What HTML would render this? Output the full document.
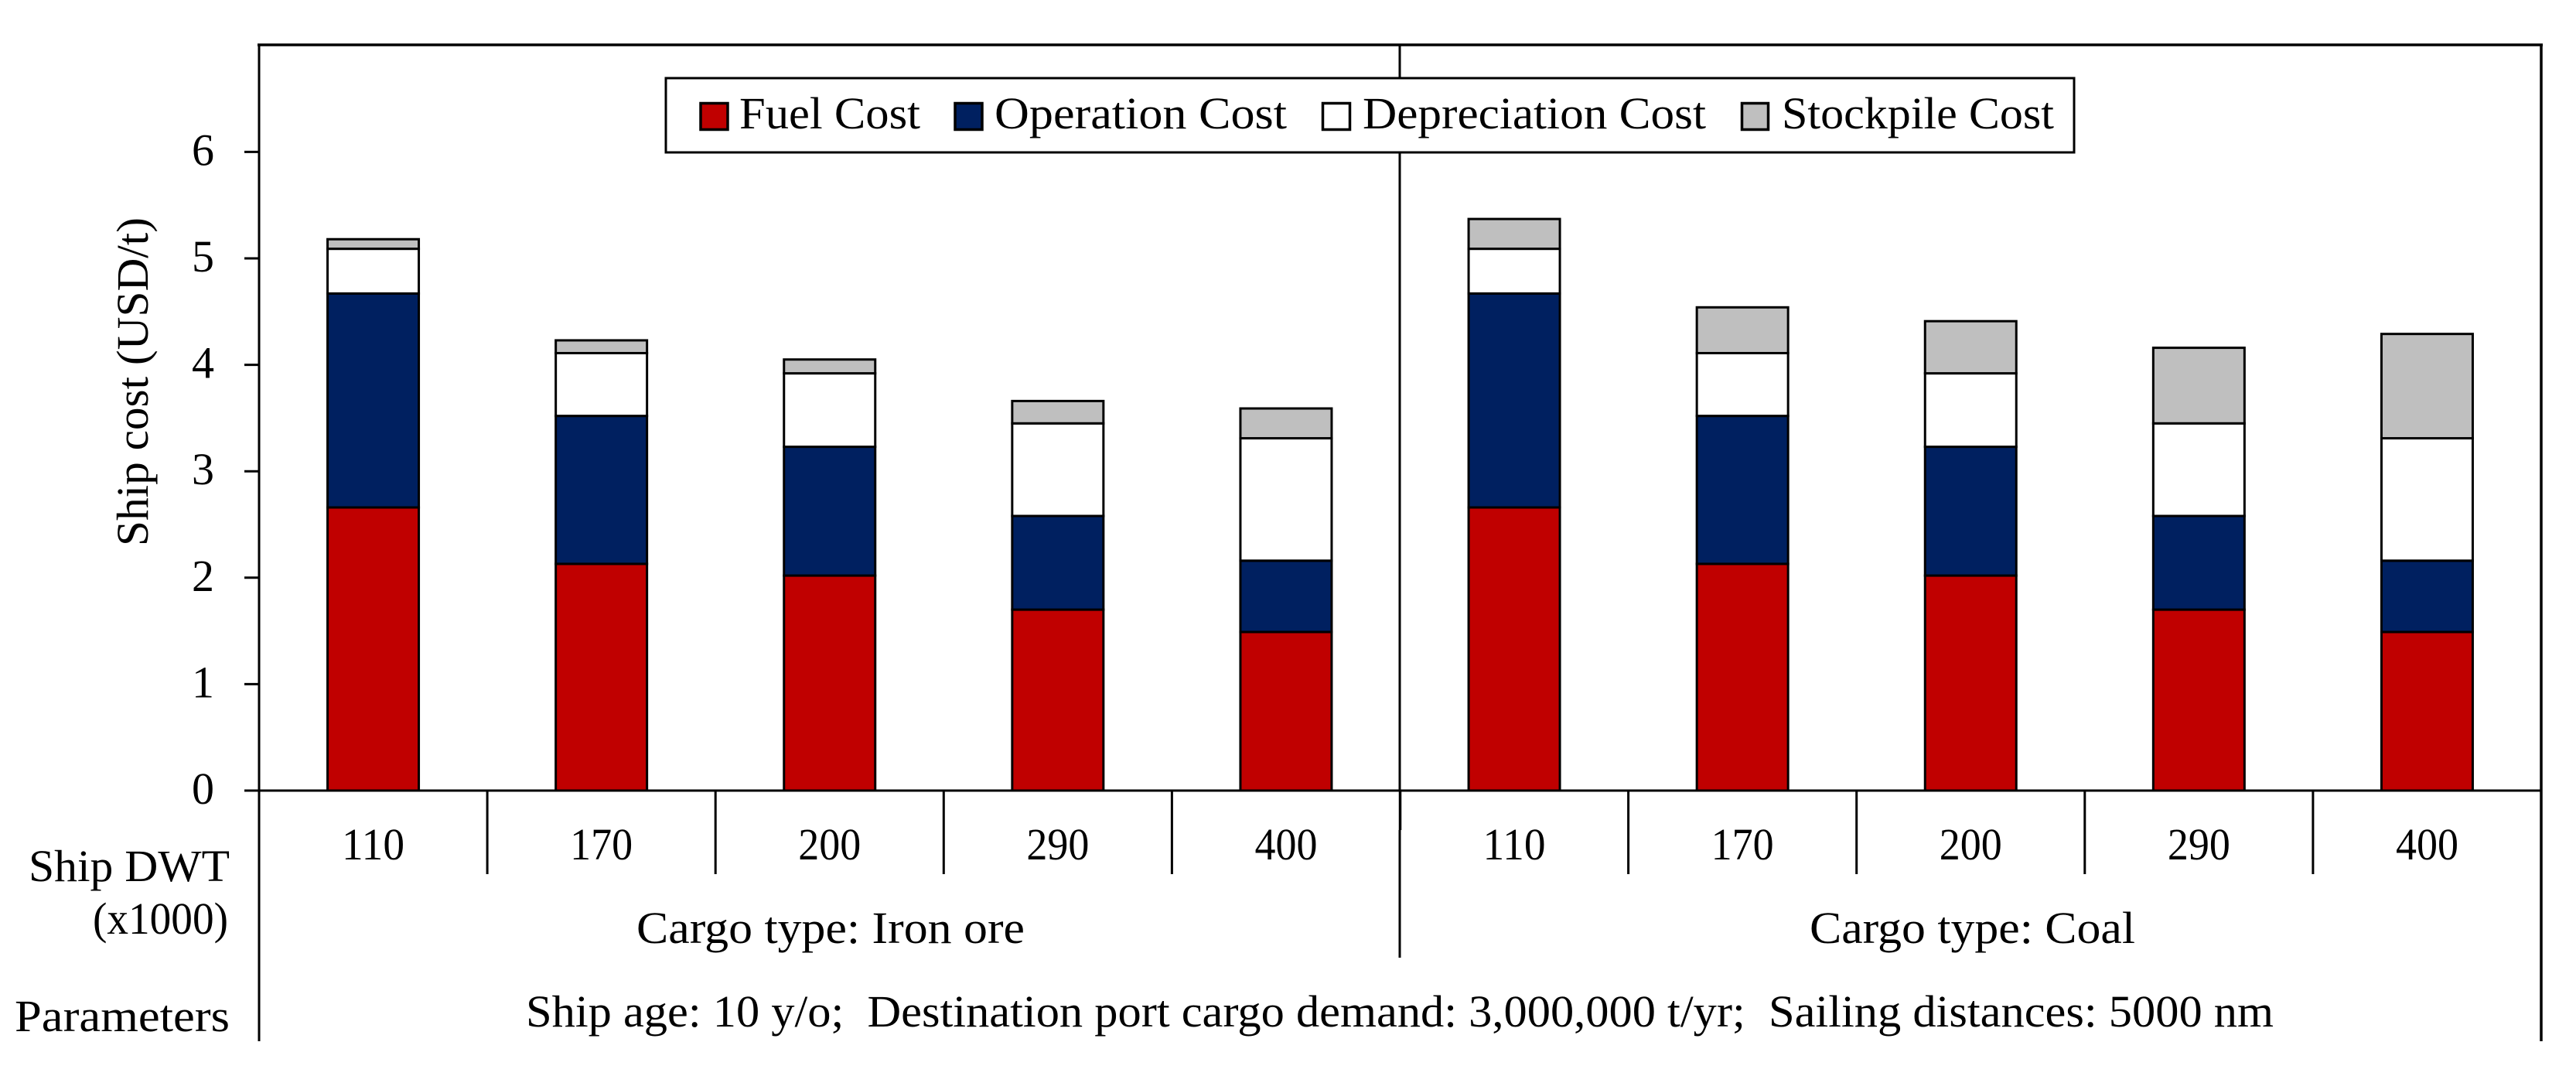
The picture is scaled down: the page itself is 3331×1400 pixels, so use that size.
<!DOCTYPE html>
<html lang="en">
<head>
<meta charset="utf-8">
<title>Ship cost chart</title>
<style>
html,body{margin:0;padding:0;background:#fff;width:3331px;height:1400px;overflow:hidden}
svg{display:block}
text{font-family:"Liberation Serif",serif;font-size:58px;fill:#000}
</style>
</head>
<body>
<svg id="chart" xmlns="http://www.w3.org/2000/svg" width="3331" height="1400" viewBox="0 0 3331 1400">
  <rect x="0" y="0" width="3331" height="1400" fill="#fff"/>
  <g id="bars"></g>
  <g id="frame" stroke="#000" fill="none">
    <line x1="333" y1="58" x2="3288" y2="58" stroke-width="3.5"/>
    <line x1="335" y1="57" x2="335" y2="1346" stroke-width="3"/>
    <line x1="3286" y1="57" x2="3286" y2="1346" stroke-width="3.5"/>
    <line x1="1810" y1="58" x2="1810" y2="1022" stroke-width="3"/>
    <line x1="1810.5" y1="1022" x2="1810.5" y2="1073" stroke-width="3.5"/>
    <line x1="1810" y1="1073" x2="1810" y2="1238" stroke-width="3"/>
  </g>
  <g id="axes"></g>
  <text transform="translate(191,706) rotate(-90)" textLength="425" lengthAdjust="spacingAndGlyphs">Ship cost (USD/t)</text>
  <g>
    <text x="37" y="1139" textLength="260" lengthAdjust="spacingAndGlyphs">Ship DWT</text>
    <text x="120" y="1207" textLength="175" lengthAdjust="spacingAndGlyphs">(x1000)</text>
    <text x="19" y="1333" textLength="278" lengthAdjust="spacingAndGlyphs">Parameters</text>
    <text x="823" y="1219" textLength="502" lengthAdjust="spacingAndGlyphs">Cargo type: Iron ore</text>
    <text x="2340" y="1219" textLength="421" lengthAdjust="spacingAndGlyphs">Cargo type: Coal</text>
    <text x="680" y="1327" textLength="2260" lengthAdjust="spacingAndGlyphs" xml:space="preserve">Ship age: 10 y/o;  Destination port cargo demand: 3,000,000 t/yr;  Sailing distances: 5000 nm</text>
  </g>
  <g>
    <rect x="861" y="101" width="1821" height="96" fill="#fff" stroke="#000" stroke-width="3"/>
    <rect x="906" y="133.5" width="35" height="34" fill="#C00000" stroke="#000" stroke-width="3.5"/>
    <text x="956" y="166" textLength="234" lengthAdjust="spacingAndGlyphs">Fuel Cost</text>
    <rect x="1235" y="133.5" width="35" height="34" fill="#002060" stroke="#000" stroke-width="3.5"/>
    <text x="1286" y="166" textLength="378" lengthAdjust="spacingAndGlyphs">Operation Cost</text>
    <rect x="1710.5" y="133.5" width="35" height="34" fill="#fff" stroke="#000" stroke-width="3.5"/>
    <text x="1762" y="166" textLength="444" lengthAdjust="spacingAndGlyphs">Depreciation Cost</text>
    <rect x="2252.5" y="133.5" width="34" height="34" fill="#BFBFBF" stroke="#000" stroke-width="3.5"/>
    <text x="2304" y="166" textLength="352" lengthAdjust="spacingAndGlyphs">Stockpile Cost</text>
  </g>
</svg>
<script>
var categories = ['110','170','200','290','400','110','170','200','290','400'];
var fuelCost = [2.66,2.13,2.02,1.70,1.49,2.66,2.13,2.02,1.70,1.49];
var operationCost = [2.01,1.39,1.21,0.88,0.67,2.01,1.39,1.21,0.88,0.67];
var depreciationCost = [0.42,0.59,0.69,0.87,1.15,0.42,0.59,0.69,0.87,1.15];
var stockpileCost = [0.09,0.12,0.13,0.21,0.28,0.28,0.43,0.49,0.71,0.98];
var yTickLabels = [0,1,2,3,4,5,6];

var NS = 'http://www.w3.org/2000/svg';
var plotLeft = 335, plotRight = 3286, zeroY = 1022, unitY = 137.6, barW = 118;
var slot = (plotRight - plotLeft) / categories.length;
function xScale(i){ return plotLeft + slot * (i + 0.5); }
function yScale(v){ return zeroY - v * unitY; }
function make(tag, attrs, parent){
  var el = document.createElementNS(NS, tag);
  for (var k in attrs) el.setAttribute(k, attrs[k]);
  parent.appendChild(el);
  return el;
}
var barsG = document.getElementById('bars');
var axesG = document.getElementById('axes');
var seriesList = [fuelCost, operationCost, depreciationCost, stockpileCost];
var seriesKeys = ['fuel','operation','depreciation','stockpile'];
var seriesFills = ['#C00000','#002060','#FFFFFF','#BFBFBF'];

categories.forEach(function(cat, i){
  var base = 0;
  seriesList.forEach(function(values, s){
    var top = base + values[i];
    var bar = make('rect', {
      x: xScale(i) - barW / 2,
      y: yScale(top),
      width: barW,
      height: yScale(base) - yScale(top),
      fill: seriesFills[s],
      stroke: '#000',
      'stroke-width': 3
    }, barsG);
    
    
    base = top;
  });
  var label = make('text', {
    x: xScale(i) - 40.5,
    y: 1111,
    textLength: 81,
    lengthAdjust: 'spacingAndGlyphs'
  }, axesG);
  label.textContent = cat;
  
  
  if (i > 0 && i !== 5) {
    var sep = make('line', {
      x1: plotLeft + slot * i,
      x2: plotLeft + slot * i,
      y1: zeroY,
      y2: 1130,
      stroke: '#000',
      'stroke-width': 3
    }, axesG);
    
    
  }
});

var xAxis = make('line', {x1: 316, x2: plotRight, y1: zeroY, y2: zeroY, stroke: '#000', 'stroke-width': 3}, axesG);



yTickLabels.forEach(function(v){
  var tick = make('line', {x1: 316, x2: plotLeft, y1: yScale(v), y2: yScale(v), stroke: '#000', 'stroke-width': 3}, axesG);
  
  
  var t = make('text', {x: 277, y: yScale(v) + 17, 'text-anchor': 'end'}, axesG);
  t.textContent = String(v);
  
  
});
</script>
</body>
</html>
